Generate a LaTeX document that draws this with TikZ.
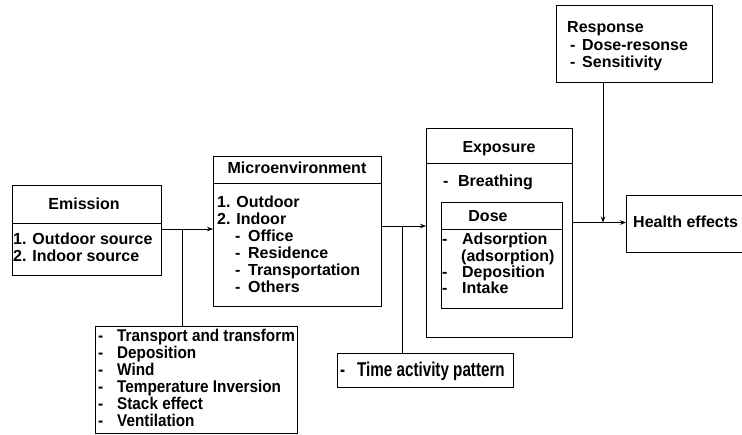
\documentclass[tikz,border=0pt]{standalone}
\usepackage{fontspec}
\setmainfont{Liberation Sans}
\newfontfamily\condfont{Liberation Sans}[FakeStretch=0.76]
\newfontfamily\narrowfont{Liberation Sans}[FakeStretch=0.9]
\usetikzlibrary{arrows.meta}

% list item: a dash followed by the word at a fixed indent
\newcommand\dashitem[2][13pt]{\makebox[#1][l]{-}#2}

\begin{document}
\begin{tikzpicture}[x=1pt,y=-1pt,
  box/.style={draw, line width=0.9pt, anchor=north west, inner sep=0pt, outer sep=0pt},
  frame/.style={anchor=north west, inner sep=0pt, outer sep=0pt},
  txt/.style={anchor=west, inner sep=0pt, font=\bfseries\fontsize{16}{17}\selectfont,
              text height=11.5pt, text depth=0pt},
  ctxt/.style={anchor=west, inner sep=0pt, font=\condfont\bfseries\fontsize{20}{16}\selectfont,
               text height=14.3pt, text depth=0pt},
  ntxt/.style={anchor=west, inner sep=0pt, font=\narrowfont\bfseries\fontsize{17}{17}\selectfont,
               text height=12.2pt, text depth=0pt},
  ttl/.style={txt, anchor=center},
  link/.style={line width=0.8pt},
  arr/.style={link, -{Stealth[length=6pt,width=4.5pt]}},
]
\useasboundingbox (0,0) rectangle (742,434);

% ---------- boxes ----------
\node[box, minimum width=149pt, minimum height=90pt]  (emi)   at (12,185)  {};
\node[box, minimum width=168pt, minimum height=150pt] (micro) at (213,156) {};
\node[box, minimum width=202pt, minimum height=107pt] (trans) at (95,326)  {};
\node[box, minimum width=176pt, minimum height=34pt]  (time)  at (337,353) {};
\node[box, minimum width=146pt, minimum height=209pt] (expo)  at (426,128) {};
\node[box, minimum width=121pt, minimum height=106pt] (dose)  at (441,202) {};
\node[box, minimum width=156pt, minimum height=77pt]  (resp)  at (556,5)   {};
\node[frame, minimum width=116pt, minimum height=57pt] (hea)  at (626,195) {};
\draw[line width=0.9pt] (hea.north east) -- (hea.north west) -- (hea.south west) -- (hea.south east);

% title dividers
\draw[line width=0.9pt] (emi.west |- 0,223)   -- (emi.east |- 0,223);
\draw[line width=0.9pt] (micro.west |- 0,183) -- (micro.east |- 0,183);
\draw[line width=0.9pt] (expo.west |- 0,163)  -- (expo.east |- 0,163);
\draw[line width=0.9pt] (dose.west |- 0,229)  -- (dose.east |- 0,229);

% ---------- texts ----------
\node[ttl] (emiT) at (84,204) {Emission};
\node[txt] (emi1) at (13,239) {1. Outdoor source};
\node[txt] (emi2) at (13,256) {2. Indoor source};

\node[ttl] (micT) at (297,168) {Microenvironment};
\node[txt] (mic1) at (217,202) {1. Outdoor};
\node[txt] (mic2) at (217,219) {2. Indoor};
\node[txt] (mic3) at (235,236) {\dashitem{Office}};
\node[txt] (mic4) at (235,253) {\dashitem{Residence}};
\node[txt] (mic5) at (235,270) {\dashitem{Transportation}};
\node[txt] (mic6) at (235,287) {\dashitem{Others}};

% transport factors, narrow face, 17pt pitch
\node[ntxt] (tr1) at (98,335.5) {\dashitem[19pt]{Transport and transform}};
\node[ntxt] (tr2) at (98,352.5) {\dashitem[19pt]{Deposition}};
\node[ntxt] (tr3) at (98,369.5) {\dashitem[19pt]{Wind}};
\node[ntxt] (tr4) at (98,386.5) {\dashitem[19pt]{Temperature Inversion}};
\node[ntxt] (tr5) at (98,403.5) {\dashitem[19pt]{Stack effect}};
\node[ntxt] (tr6) at (98,420.5) {\dashitem[19pt]{Ventilation}};

\node[ctxt] (tm1) at (340,369) {\dashitem[17pt]{Time activity pattern}};

\node[ttl] (expT) at (499,147) {Exposure};
\node[txt] (exp1) at (443,181) {\dashitem[15pt]{Breathing}};

\node[ttl] (dosT) at (488,216) {Dose};
\node[txt] (dos1) at (442,239) {\dashitem[20pt]{Adsorption}};
\node[txt] (dos2) at (461,256) {(adsorption)};
\node[txt] (dos3) at (442,272) {\dashitem[20pt]{Deposition}};
\node[txt] (dos4) at (442,288) {\dashitem[20pt]{Intake}};

\node[txt] (rsp1) at (567,27) {Response};
\node[txt] (rsp2) at (570,45) {\dashitem[12pt]{Dose-resonse}};
\node[txt] (rsp3) at (570,62) {\dashitem[12pt]{Sensitivity}};

\node[txt] (heaT) at (633,222) {Health effects};

% ---------- connectors ----------
\coordinate (ej) at (182,229);
\coordinate (tj) at (402,226);
\coordinate (hj) at (603,222.5);

\draw[arr]  (emi.east |- ej) -- (ej -| micro.west);
\draw[link] (ej) -- (ej |- trans.north);

\draw[arr]  (micro.east |- tj) -- (tj -| expo.west);
\draw[link] (tj) -- (tj |- time.north);

\draw[arr]  (expo.east |- hj) -- (hj -| hea.west);
\draw[arr]  (resp.south -| hj) -- (hj);
\end{tikzpicture}
\end{document}
